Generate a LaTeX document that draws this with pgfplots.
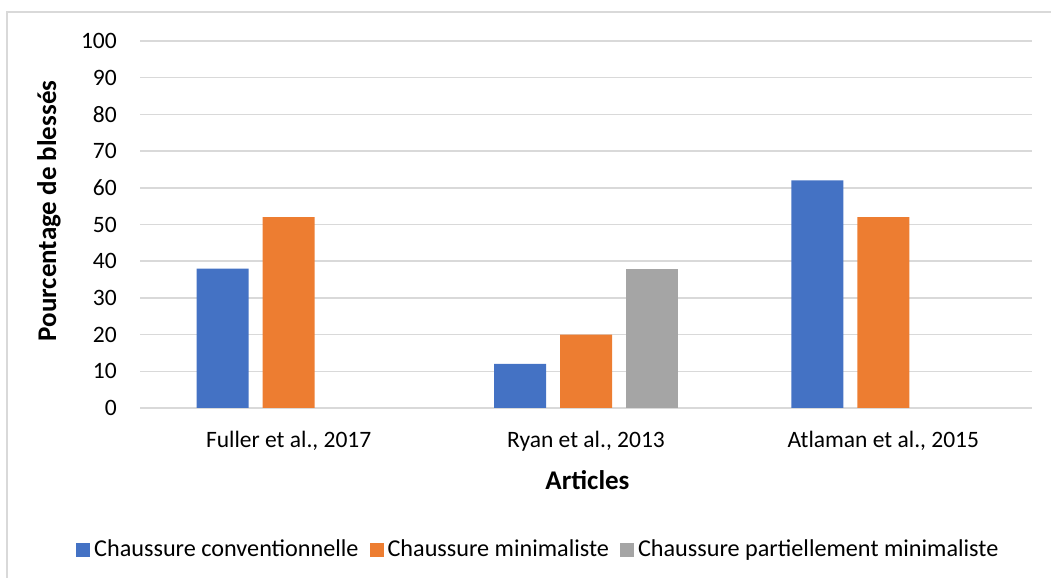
\documentclass[border=0pt]{standalone}
\usepackage{fontspec}
\setmainfont{Carlito}
\usepackage{pgfplots}
\pgfplotsset{compat=1.18}
\definecolor{cblue}{HTML}{4472C4}
\definecolor{corange}{HTML}{ED7D31}
\definecolor{cgray}{HTML}{A5A5A5}
\definecolor{cgrid}{HTML}{D9D9D9}
\newcommand{\cfont}{\fontsize{23.5bp}{28bp}\selectfont}
\newcommand{\lfont}{\fontsize{24.2bp}{28bp}\selectfont}
\newcommand{\tfont}{\fontsize{27bp}{32bp}\selectfont\bfseries}
\begin{document}
\cfont
\begin{tikzpicture}[x=1bp,y=1bp]
\path[use as bounding box] (0,0) rectangle (1051,578);
\draw[cgrid, line width=1.5bp] (7,0) -- (7,566) -- (1051,566);
\begin{axis}[
  at={(140bp,170bp)}, anchor=south west,
  scale only axis, width=892bp, height=367bp,
  xmin=-0.5, xmax=2.5, ymin=0, ymax=100,
  xtick={0,1,2},
  xticklabels={{Fuller et al., 2017},{Ryan et al., 2013},{Atlaman et al., 2015}},
  ytick={0,10,...,100},
  axis line style={draw=none},
  major tick length=0pt,
  ymajorgrids, grid style={cgrid, line width=1.5bp},
  tick label style={font=\cfont},
  /pgf/number format/assume math mode=true,
  yticklabel style={anchor=east, inner sep=0pt, xshift=-23bp},
  xticklabel style={anchor=base, inner sep=0pt, yshift=-40bp},
  ybar=14bp, bar width=52bp,
  legend style={draw=none, font=\lfont, at={(0.4465,-0.387)}, anchor=center,
    legend columns=-1, /tikz/every even column/.append style={column sep=9bp}},
  legend image code/.code={\fill[#1] (0bp,-7bp) rectangle (14bp,7bp); \path (16bp,0bp);},
]
\addplot[fill=cblue, draw=none] coordinates {(0,38) (1,12) (2,62)};
\addplot[fill=corange, draw=none] coordinates {(0,52) (1,20) (2,52)};
\addplot[fill=cgray, draw=none] coordinates {(1,38)};
\legend{Chaussure conventionnelle, Chaussure minimaliste, Chaussure partiellement minimaliste}
\end{axis}
\node[anchor=base, font=\tfont] at (587.5,88) {Articles};
\node[anchor=base, rotate=90, font=\tfont] at (56,367) {Pourcentage de blessés};
\end{tikzpicture}
\end{document}
